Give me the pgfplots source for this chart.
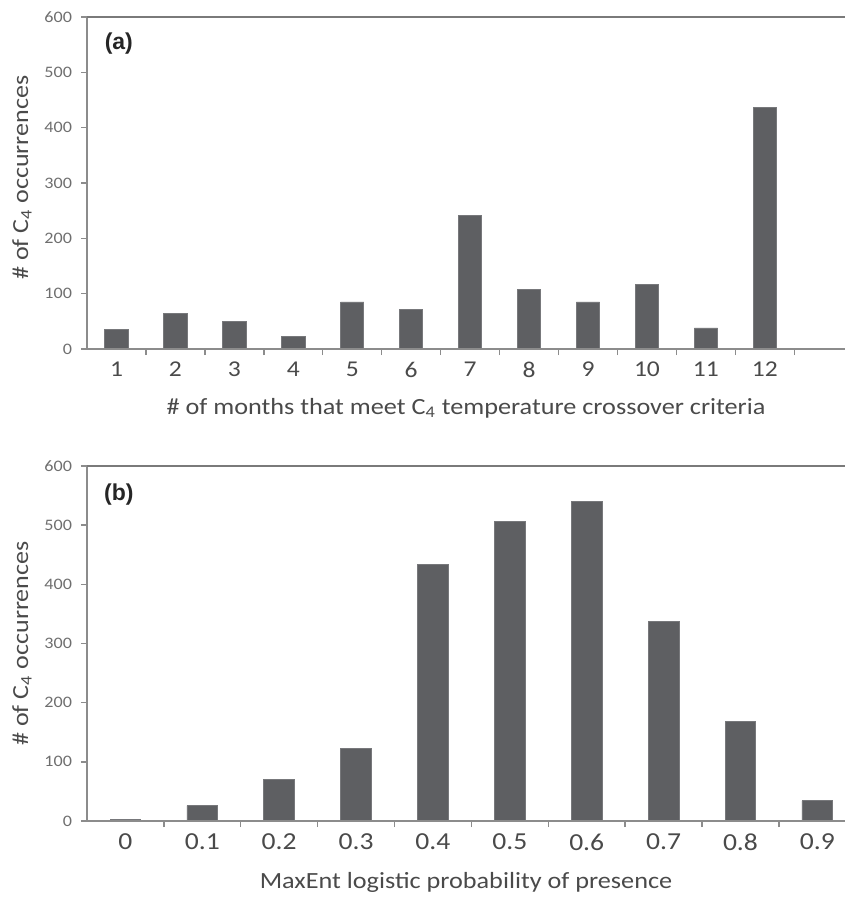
\documentclass[border=0pt]{standalone}
\usepackage{fontspec}
\setmainfont{Carlito}[FakeStretch=1.13]
\newfontfamily\arialfont{Liberation Sans}
\usepackage{pgfplots}
\pgfplotsset{compat=1.18}
\definecolor{barc}{HTML}{5E5F62}
\definecolor{bare}{HTML}{77787B}
\definecolor{axc}{HTML}{8C8C8C}
\definecolor{topc}{HTML}{7A7A7A}
\definecolor{ytc}{HTML}{6E6E6E}
\definecolor{labc}{HTML}{4A4A4A}
\pgfplotsset{
  panel/.style={
    scale only axis, width=379pt,
    ymin=0, ymax=600, ytick={0,100,...,600},
    axis line style={draw=none},
    clip=false,
    ytick pos=left, xtick pos=bottom,
    y tick style={draw=axc, line width=0.7pt},
    x tick style={draw=axc, line width=0.7pt},
    ytick align=outside, xtick align=inside,
    major tick length=3pt,
    xticklabels={},
    /pgf/number format/assume math mode=true,
    yticklabel style={font=\fontsize{8}{9}\selectfont, text=ytc, xshift=-1pt},
    extra x tick style={x tick style={draw=none}, major tick length=0pt,
      xticklabel style={font=\fontsize{11.3}{13}\selectfont, text=labc, yshift=-3pt}},
    xlabel style={font=\fontsize{11.6}{13}\selectfont, text=labc, at={(axis description cs:0.5,0)}, anchor=center},
    ylabel style={font=\fontsize{11.5}{13}\selectfont, text=labc, anchor=center},
    ybar, bar width=0.395,
  },
}
\begin{document}
\begin{tikzpicture}[x=1pt,y=1pt]
% panel (a)
\begin{axis}[panel,
  at={(43.5pt,-174.5pt)}, anchor=south west, height=166pt,
  xmin=0.5, xmax=13.36,
  xtick={1.5,2.5,...,12.5},
  extra x ticks={1,2,...,12},
  extra x tick labels={1,2,3,4,5,6,7,8,9,10,11,12},
  xlabel={\# of months that meet C\textsubscript{4} temperature crossover criteria},
  xlabel style={yshift=-29.5pt},
  ylabel={\# of C\textsubscript{4} occurrences},
  ylabel style={at={(axis description cs:-0.0858,0.516)}},
]
\addplot[fill=barc, draw=bare, line width=0.4pt] coordinates {
(1,36) (2,64) (3,49) (4,23) (5,85) (6,72) (7,241) (8,107) (9,85) (10,116) (11,38) (12,437)};
\draw[axc, line width=0.8pt] (rel axis cs:0,0) -- (rel axis cs:1,0);
\draw[axc, line width=0.8pt] (rel axis cs:0,0) -- (rel axis cs:0,1);
\draw[topc, line width=1.2pt] (rel axis cs:0,1) -- (rel axis cs:1,1);
\node[font=\arialfont\bfseries\fontsize{11.5}{13}\selectfont, text=black!85] at (axis description cs:0.042,0.92) {(a)};
\end{axis}
% panel (b)
\begin{axis}[panel,
  at={(43.5pt,-410.5pt)}, anchor=south west, height=177.5pt,
  xmin=-0.5, xmax=9.36,
  xtick={0.5,1.5,...,8.5},
  extra x ticks={0,1,...,9},
  extra x tick labels={0,0.1,0.2,0.3,0.4,0.5,0.6,0.7,0.8,0.9},
  extra x tick style={xticklabel style={font=\fontsize{12.2}{13}\selectfont}},
  bar width=0.4,
  xlabel={MaxEnt logistic probability of presence},
  xlabel style={yshift=-30.5pt},
  ylabel={\# of C\textsubscript{4} occurrences},
  ylabel style={at={(axis description cs:-0.0858,0.5)}},
]
\addplot[fill=barc, draw=bare, line width=0.4pt] coordinates {
(0,3) (1,26) (2,70) (3,123) (4,434) (5,507) (6,540) (7,338) (8,169) (9,34)};
\draw[axc, line width=0.8pt] (rel axis cs:0,0) -- (rel axis cs:1,0);
\draw[axc, line width=0.8pt] (rel axis cs:0,0) -- (rel axis cs:0,1);
\draw[topc, line width=1.2pt] (rel axis cs:0,1) -- (rel axis cs:1,1);
\node[font=\arialfont\bfseries\fontsize{11.5}{13}\selectfont, text=black!85] at (axis description cs:0.042,0.92) {(b)};
\end{axis}
\pgfresetboundingbox
\path (0,0) rectangle (422.5pt,-449pt);
\end{tikzpicture}
\end{document}
